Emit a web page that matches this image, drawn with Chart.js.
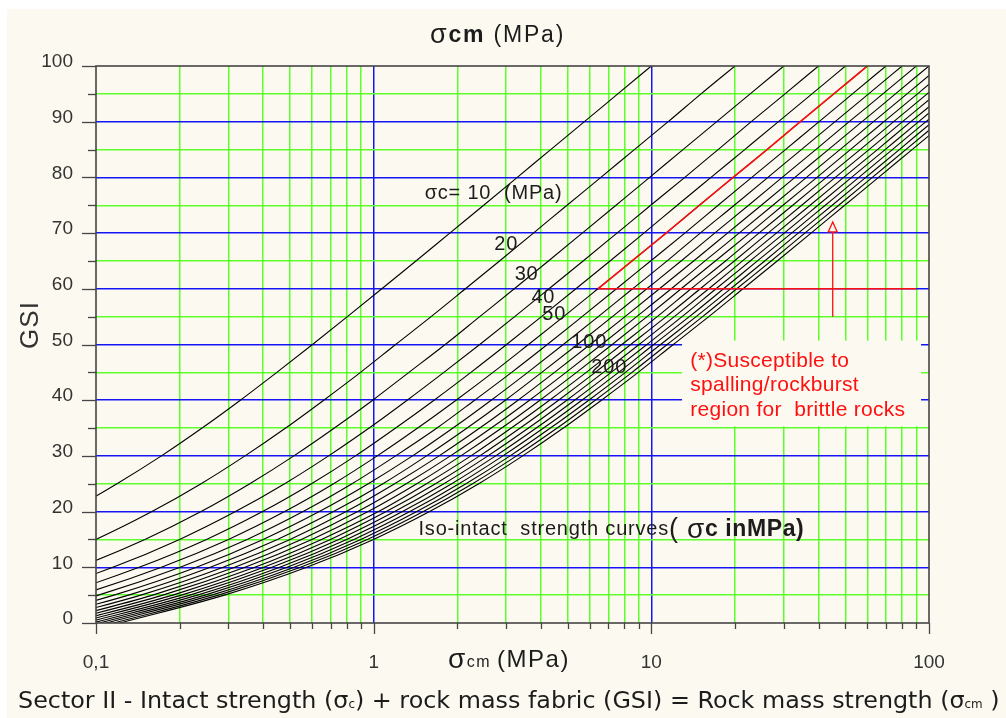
<!DOCTYPE html>
<html>
<head>
<meta charset="utf-8">
<script src="https://cdn.jsdelivr.net/npm/chart.js@4.4.1/dist/chart.umd.min.js"></script>
<style>
  html, body { margin: 0; padding: 0; background: #ffffff; width: 1006px; height: 718px; overflow: hidden; }
  #wrap { position: absolute; left: 7px; top: 9px; width: 999px; height: 709px; background: #FCFAF0; }
  canvas { display: block; }
</style>
</head>
<body>
<div id="wrap"><canvas id="chart" width="999" height="709"></canvas></div>
<script>
// GSI levels at which every iso-intact-strength curve is tabulated
const GSI = [0, 5, 10, 15, 20, 25, 30, 35, 40, 45, 50, 55, 60, 65, 70, 75, 80, 85, 90, 95, 100];

// Intact strength σc (MPa) of each curve
const SIGMA_C = [10, 20, 30, 40, 50, 60, 70, 80, 90, 100, 110, 120, 130, 140, 150, 160, 170, 180, 190, 200];

// Rock mass strength σcm (MPa) along each curve, one value per GSI level
const SIGMA_CM_10  = [0.00608, 0.0145, 0.0287, 0.0500, 0.0796, 0.119, 0.172, 0.241, 0.331, 0.448, 0.602, 0.804, 1.07, 1.42, 1.88, 2.49, 3.29, 4.34, 5.74, 7.57, 10];
const SIGMA_CM_20  = [0.0122, 0.0290, 0.0574, 0.0999, 0.159, 0.239, 0.344, 0.482, 0.661, 0.897, 1.20, 1.61, 2.14, 2.84, 3.76, 4.97, 6.58, 8.69, 11.5, 15.1, 20];
const SIGMA_CM_30  = [0.0182, 0.0435, 0.0861, 0.150, 0.239, 0.358, 0.516, 0.722, 0.992, 1.34, 1.81, 2.41, 3.21, 4.26, 5.64, 7.46, 9.86, 13.0, 17.2, 22.7, 30];
const SIGMA_CM_40  = [0.0243, 0.0580, 0.115, 0.200, 0.318, 0.478, 0.688, 0.963, 1.32, 1.79, 2.41, 3.22, 4.28, 5.68, 7.52, 9.95, 13.2, 17.4, 22.9, 30.3, 40];
const SIGMA_CM_50  = [0.0304, 0.0725, 0.143, 0.250, 0.398, 0.597, 0.860, 1.20, 1.65, 2.24, 3.01, 4.02, 5.35, 7.10, 9.40, 12.4, 16.4, 21.7, 28.7, 37.9, 50];
const SIGMA_CM_60  = [0.0365, 0.0870, 0.172, 0.300, 0.478, 0.717, 1.03, 1.44, 1.98, 2.69, 3.61, 4.83, 6.42, 8.52, 11.3, 14.9, 19.7, 26.1, 34.4, 45.4, 60];
const SIGMA_CM_70  = [0.0426, 0.102, 0.201, 0.350, 0.557, 0.836, 1.20, 1.69, 2.31, 3.14, 4.22, 5.63, 7.49, 9.94, 13.2, 17.4, 23.0, 30.4, 40.2, 53.0, 70];
const SIGMA_CM_80  = [0.0487, 0.116, 0.230, 0.400, 0.637, 0.956, 1.38, 1.93, 2.65, 3.59, 4.82, 6.44, 8.56, 11.4, 15.0, 19.9, 26.3, 34.7, 45.9, 60.6, 80];
const SIGMA_CM_90  = [0.0547, 0.131, 0.258, 0.450, 0.717, 1.08, 1.55, 2.17, 2.98, 4.03, 5.42, 7.24, 9.63, 12.8, 16.9, 22.4, 29.6, 39.1, 51.6, 68.2, 90];
const SIGMA_CM_100 = [0.0608, 0.145, 0.287, 0.500, 0.796, 1.19, 1.72, 2.41, 3.31, 4.48, 6.02, 8.04, 10.7, 14.2, 18.8, 24.9, 32.9, 43.4, 57.4, 75.7, 100];
const SIGMA_CM_110 = [0.0669, 0.160, 0.316, 0.549, 0.876, 1.31, 1.89, 2.65, 3.64, 4.93, 6.62, 8.85, 11.8, 15.6, 20.7, 27.4, 36.2, 47.8, 63.1, 83.3, 110];
const SIGMA_CM_120 = [0.0730, 0.174, 0.344, 0.599, 0.955, 1.43, 2.06, 2.89, 3.97, 5.38, 7.23, 9.65, 12.8, 17.0, 22.6, 29.8, 39.5, 52.1, 68.8, 90.9, 120];
const SIGMA_CM_130 = [0.0791, 0.189, 0.373, 0.649, 1.04, 1.55, 2.24, 3.13, 4.30, 5.83, 7.83, 10.5, 13.9, 18.5, 24.4, 32.3, 42.7, 56.5, 74.6, 98.5, 130];
const SIGMA_CM_140 = [0.0851, 0.203, 0.402, 0.699, 1.11, 1.67, 2.41, 3.37, 4.63, 6.28, 8.43, 11.3, 15.0, 19.9, 26.3, 34.8, 46.0, 60.8, 80.3, 106, 140];
const SIGMA_CM_150 = [0.0912, 0.218, 0.430, 0.749, 1.19, 1.79, 2.58, 3.61, 4.96, 6.72, 9.03, 12.1, 16.1, 21.3, 28.2, 37.3, 49.3, 65.2, 86.0, 114, 150];
const SIGMA_CM_160 = [0.0973, 0.232, 0.459, 0.799, 1.27, 1.91, 2.75, 3.85, 5.29, 7.17, 9.64, 12.9, 17.1, 22.7, 30.1, 39.8, 52.6, 69.5, 91.8, 121, 160];
const SIGMA_CM_170 = [0.103, 0.247, 0.488, 0.849, 1.35, 2.03, 2.92, 4.09, 5.62, 7.62, 10.2, 13.7, 18.2, 24.1, 32.0, 42.3, 55.9, 73.8, 97.5, 129, 170];
const SIGMA_CM_180 = [0.109, 0.261, 0.517, 0.899, 1.43, 2.15, 3.10, 4.33, 5.95, 8.07, 10.8, 14.5, 19.3, 25.6, 33.8, 44.8, 59.2, 78.2, 103, 136, 180];
const SIGMA_CM_190 = [0.116, 0.276, 0.545, 0.949, 1.51, 2.27, 3.27, 4.58, 6.28, 8.52, 11.4, 15.3, 20.3, 27.0, 35.7, 47.3, 62.5, 82.5, 109, 144, 190];
const SIGMA_CM_200 = [0.122, 0.290, 0.574, 0.999, 1.59, 2.39, 3.44, 4.82, 6.61, 8.97, 12.0, 16.1, 21.4, 28.4, 37.6, 49.7, 65.8, 86.9, 115, 151, 200];

const CURVE_VALUES = [
  SIGMA_CM_10, SIGMA_CM_20, SIGMA_CM_30, SIGMA_CM_40, SIGMA_CM_50,
  SIGMA_CM_60, SIGMA_CM_70, SIGMA_CM_80, SIGMA_CM_90, SIGMA_CM_100,
  SIGMA_CM_110, SIGMA_CM_120, SIGMA_CM_130, SIGMA_CM_140, SIGMA_CM_150,
  SIGMA_CM_160, SIGMA_CM_170, SIGMA_CM_180, SIGMA_CM_190, SIGMA_CM_200
];

// Axis ticks
const X_MAJOR = [0.1, 1, 10, 100];
const X_MAJOR_LABELS = ['0,1', '1', '10', '100'];
const X_MINOR_STEPS = [2, 3, 4, 5, 6, 7, 8, 9];
const Y_TICKS = [0, 5, 10, 15, 20, 25, 30, 35, 40, 45, 50, 55, 60, 65, 70, 75, 80, 85, 90, 95, 100];
const Y_LABEL_STEP = 10;

// Spalling / rockburst region: the σc = 60 curve above GSI 60, the GSI 60 limit and the arrow
const BURST_SIGMA_C = 60;
const BURST_GSI_MIN = 60;
const BURST_LINE_X = [6.42, 90];
const BURST_LINE_Y = [60, 60];
const ARROW_X = [45, 45];
const ARROW_Y = [55, 72];

// ---- styles ----
const BG = '#FCFAF0';
const BLUE = '#1414F5';
const GREEN = '#5CFF2A';
const FRAME = '#454545';
const RED = '#FF1010';
const INK = '#1c1c1c';
const SANS = '"Liberation Sans", Arial, sans-serif';
const WIDE = '"DejaVu Sans", Verdana, sans-serif';

const xTickValues = [];
X_MAJOR.forEach((m, i) => {
  xTickValues.push(m);
  if (i < X_MAJOR.length - 1) X_MINOR_STEPS.forEach(s => xTickValues.push(m * s));
});
const isMajorX = v => X_MAJOR.some(m => Math.abs(m - v) < 1e-9);

const datasets = SIGMA_C.map((sc, i) => ({
  label: 'σc = ' + sc,
  data: GSI.map((g, j) => ({ x: CURVE_VALUES[i][j], y: g })),
  borderColor: '#000000',
  borderWidth: 1.1,
  pointRadius: 0,
  cubicInterpolationMode: 'monotone',
  fill: false
}));

const burstIdx = SIGMA_C.indexOf(BURST_SIGMA_C);
datasets.push({
  label: 'burst curve',
  data: GSI.map((g, j) => ({ x: CURVE_VALUES[burstIdx][j], y: g })).filter(p => p.y >= BURST_GSI_MIN),
  borderColor: RED, borderWidth: 1.6, pointRadius: 0, cubicInterpolationMode: 'monotone', fill: false, order: -1
});
datasets.push({
  label: 'burst limit',
  data: BURST_LINE_X.map((v, i) => ({ x: v, y: BURST_LINE_Y[i] })),
  borderColor: RED, borderWidth: 1.4, pointRadius: 0, fill: false, order: -1
});
datasets.push({
  label: 'arrow',
  data: ARROW_X.map((v, i) => ({ x: v, y: ARROW_Y[i] })),
  borderColor: RED, borderWidth: 1.3, pointRadius: 0, fill: false, order: -1
});

// Draws a run of text pieces with different fonts, left to right
function drawRuns(ctx, runs, x, y, spacing) {
  let cx = x;
  ctx.letterSpacing = (spacing || 0) + 'px';
  runs.forEach(r => {
    ctx.font = r.f;
    ctx.fillStyle = r.c || INK;
    ctx.fillText(r.t, cx, y + (r.dy || 0));
    cx += ctx.measureText(r.t).width;
  });
  ctx.letterSpacing = '0px';
  return cx - x;
}

// Same, with the font size chosen so the whole run spans the given width
function drawRunsFit(ctx, runs, x, y, width) {
  const measure = k => runs.reduce((w, r) => {
    ctx.font = r.f.replace(/(\d+(\.\d+)?)px/, (m, n) => (parseFloat(n) * k) + 'px');
    return w + ctx.measureText(r.t).width;
  }, 0);
  const k = width / measure(1);
  drawRuns(ctx, runs.map(r => Object.assign({}, r, {
    f: r.f.replace(/(\d+(\.\d+)?)px/, (m, n) => (parseFloat(n) * k) + 'px'),
    dy: (r.dy || 0) * k
  })), x, y);
}

const decorations = {
  id: 'decorations',
  beforeDatasetsDraw(chart) {
    const { ctx, scales: { x, y } } = chart;
    // plain panel behind the note
    const l = x.getPixelForValue(12.9), r = x.getPixelForValue(93.6);
    const t = y.getPixelForValue(50.7), b = y.getPixelForValue(35.3);
    ctx.save();
    ctx.fillStyle = BG;
    ctx.fillRect(l, t, r - l, b - t);
    ctx.restore();
  },
  afterDraw(chart) {
    const { ctx, chartArea: a, scales: { x, y } } = chart;
    ctx.save();

    // frame
    ctx.strokeStyle = FRAME;
    ctx.lineWidth = 1.6;
    ctx.strokeRect(a.left, a.top, a.right - a.left, a.bottom - a.top);

    // tick marks
    ctx.lineWidth = 1.3;
    xTickValues.forEach(v => {
      const px = Math.round(x.getPixelForValue(v)) + 0.5;
      const len = isMajorX(v) ? 11 : 6;
      ctx.beginPath(); ctx.moveTo(px, a.bottom); ctx.lineTo(px, a.bottom + len); ctx.stroke();
    });
    Y_TICKS.forEach(v => {
      const py = Math.round(y.getPixelForValue(v)) + 0.5;
      const len = v % Y_LABEL_STEP === 0 ? 14 : 8;
      ctx.beginPath(); ctx.moveTo(a.left - len, py); ctx.lineTo(a.left, py); ctx.stroke();
    });

    // arrowhead
    const ax = x.getPixelForValue(ARROW_X[1]);
    const ay = y.getPixelForValue(ARROW_Y[1]);
    ctx.strokeStyle = RED;
    ctx.fillStyle = BG;
    ctx.lineWidth = 1.3;
    ctx.beginPath();
    ctx.moveTo(ax, ay); ctx.lineTo(ax - 4.5, ay + 10); ctx.lineTo(ax + 4.5, ay + 10); ctx.closePath();
    ctx.fill(); ctx.stroke();

    ctx.textBaseline = 'middle';
    ctx.textAlign = 'left';

    // curve labels
    const curveLabels = [
      ['σc= 10  (MPa)', 1.526, 77.2],
      ['20', 2.72, 67.9],
      ['30', 3.22, 62.5],
      ['40', 3.70, 58.5],
      ['50', 4.05, 55.3],
      ['100', 5.15, 50.4],
      ['200', 6.08, 45.8]
    ];
    ctx.font = '20px ' + SANS;
    ctx.fillStyle = INK;
    ctx.letterSpacing = '0.8px';
    curveLabels.forEach(([t, vx, vy]) => ctx.fillText(t, x.getPixelForValue(vx), y.getPixelForValue(vy)));
    ctx.letterSpacing = '0px';

    // iso-intact strength note
    const ix = x.getPixelForValue(1.45), iy = y.getPixelForValue(16.7);
    const w1 = drawRuns(ctx, [{ t: 'Iso-intact  strength curves', f: '20px ' + SANS }], ix, iy, 0.8);
    drawRuns(ctx, [
      { t: '(', f: '27px ' + SANS },
      { t: ' σ', f: '28px ' + SANS },
      { t: 'c inMPa)', f: 'bold 23px ' + SANS }
    ], ix + w1, iy, 0.6);

    // spalling note
    ctx.font = '21px ' + SANS;
    ctx.fillStyle = RED;
    ctx.letterSpacing = '0.3px';
    const nx = x.getPixelForValue(13.8);
    [['(*)Susceptible to', 47.0], ['spalling/rockburst', 42.7], ['region for  brittle rocks', 38.2]]
      .forEach(([t, vy]) => ctx.fillText(t, nx, y.getPixelForValue(vy)));
    ctx.letterSpacing = '0px';

    // top title
    drawRuns(ctx, [
      { t: 'σ', f: '27px ' + SANS },
      { t: 'cm', f: 'bold 23px ' + SANS },
      { t: ' (MPa)', f: '23px ' + SANS }
    ], 423, 27, 1.8);

    // x axis title
    drawRuns(ctx, [
      { t: 'σ', f: '28px ' + SANS },
      { t: 'cm ', f: '16px ' + SANS, dy: 3 },
      { t: '(MPa)', f: '24px ' + SANS }
    ], 441, 651, 1.5);

    // caption
    drawRunsFit(ctx, [
      { t: 'Sector II - Intact strength (', f: '22px ' + WIDE },
      { t: 'σ', f: '22px ' + WIDE },
      { t: 'c', f: '11px ' + WIDE, dy: 3 },
      { t: ') + rock mass fabric (GSI) = Rock mass strength (', f: '22px ' + WIDE },
      { t: 'σ', f: '22px ' + WIDE },
      { t: 'cm', f: '11px ' + WIDE, dy: 3 },
      { t: ' )', f: '22px ' + WIDE }
    ], 11, 693, 982);

    // y axis title
    ctx.translate(24, 316);
    ctx.rotate(-Math.PI / 2);
    ctx.textAlign = 'center';
    ctx.font = '26px ' + SANS;
    ctx.fillStyle = '#333';
    ctx.letterSpacing = '1px';
    ctx.fillText('GSI', 0, 0);

    ctx.restore();
  }
};

new Chart(document.getElementById('chart'), {
  type: 'line',
  data: { datasets },
  options: {
    responsive: false,
    animation: false,
    events: [],
    layout: { padding: { left: 0, right: 77, top: 57, bottom: 0 } },
    plugins: { legend: { display: false }, tooltip: { enabled: false }, title: { display: false } },
    scales: {
      x: {
        type: 'logarithmic',
        min: 0.1,
        max: 100,
        afterBuildTicks: s => { s.ticks = xTickValues.map(v => ({ value: v, major: isMajorX(v) })); },
        afterFit: s => { s.height = 95; },
        ticks: {
          autoSkip: false,
          maxRotation: 0,
          padding: 28,
          color: '#333',
          font: { family: SANS, size: 19 },
          callback: v => { const i = X_MAJOR.findIndex(m => Math.abs(m - v) < 1e-9); return i >= 0 ? X_MAJOR_LABELS[i] : ''; }
        },
        grid: {
          drawTicks: false,
          lineWidth: 1.5,
          color: c => {
            const v = c.tick && c.tick.value;
            if (v === undefined) return 'transparent';
            if (Math.abs(v - 0.1) < 1e-9 || Math.abs(v - 100) < 1e-9) return 'transparent';
            return isMajorX(v) ? BLUE : GREEN;
          }
        },
        border: { display: false }
      },
      y: {
        type: 'linear',
        min: 0,
        max: 100,
        afterBuildTicks: s => { s.ticks = Y_TICKS.map(v => ({ value: v })); },
        afterFit: s => { s.width = 89; },
        ticks: {
          autoSkip: false,
          padding: 23,
          labelOffset: -4,
          color: '#333',
          font: { family: SANS, size: 19 },
          callback: v => (v % Y_LABEL_STEP === 0 ? String(v) : '')
        },
        grid: {
          drawTicks: false,
          lineWidth: 1.5,
          color: c => {
            const v = c.tick && c.tick.value;
            if (v === undefined || v === 0 || v === 100) return 'transparent';
            return v % Y_LABEL_STEP === 0 ? BLUE : GREEN;
          }
        },
        border: { display: false }
      }
    }
  },
  plugins: [decorations]
});
</script>
</body>
</html>
